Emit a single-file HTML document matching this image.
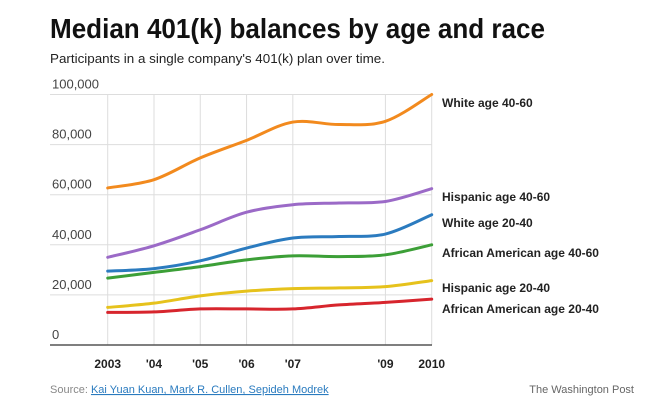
<!DOCTYPE html>
<html><head><meta charset="utf-8"><style>
body{margin:0;background:#fff;font-family:"Liberation Sans",sans-serif}
</style></head><body>
<svg id="c" width="664" height="402" xmlns="http://www.w3.org/2000/svg" font-family="Liberation Sans, sans-serif">
<text x="50" y="38" font-size="28" font-weight="bold" textLength="495" lengthAdjust="spacingAndGlyphs" fill="#111">Median 401(k) balances by age and race</text>
<text x="50" y="63" font-size="13" fill="#222" textLength="335" lengthAdjust="spacingAndGlyphs">Participants in a single company's 401(k) plan over time.</text>
<g id="grid"></g><g id="lines"></g><g id="labels"></g>
<text x="50" y="393" font-size="11" fill="#888">Source: <tspan fill="#2a7bbf" text-decoration="underline">Kai Yuan Kuan, Mark R. Cullen, Sepideh Modrek</tspan></text>
<text x="634" y="393" font-size="11" fill="#666" text-anchor="end">The Washington Post</text>
</svg>
<script>
const years=[2003,2004,2005,2006,2007,2008,2009,2010];
const tickYears=[2003,2004,2005,2006,2007,2009,2010];
const tickLabels=["2003","'04","'05","'06","'07","'09","2010"];
const yTicks=[0,20000,40000,60000,80000,100000];
const white4060=[62700,66000,74700,81700,89000,88000,89300,100000];
const hisp4060=[35000,39600,46000,53000,56000,56700,57300,62400];
const white2040=[29500,30500,33600,38700,42700,43300,44300,52000];
const afam4060=[26700,29000,31300,34000,35600,35300,36000,40000];
const hisp2040=[15000,16700,19600,21500,22500,22800,23300,25700];
const afam2040=[13000,13200,14400,14400,14400,16000,17000,18300];
const seriesNames=["White age 40-60","Hispanic age 40-60","White age 20-40","African American age 40-60","Hispanic age 20-40","African American age 20-40"];
const series=[white4060,hisp4060,white2040,afam4060,hisp2040,afam2040];
const colors=["#f28a1e","#9b6ac7","#2b7bbf","#3c9f37","#e6c21c","#d7252d"];
const labelY=[107,201,227,257,292,313];
const NS="http://www.w3.org/2000/svg";
const X=y=>107.7+(y-2003)*(431.7-107.7)/7;
const Y=v=>345-v*250.5/100000;
function mk(t,a,p){const e=document.createElementNS(NS,t);for(const k in a)e.setAttribute(k,a[k]);p.appendChild(e);return e;}
const g=document.getElementById('grid');
yTicks.forEach(v=>{
  if(v>0){const l=mk('line',{x1:50,x2:432,y1:Y(v),y2:Y(v),stroke:'#ddd','stroke-width':1},g);
  
  }
  const t=mk('text',{x:52,y:Y(v)-6,'font-size':13,fill:'#444'},g);t.textContent=v.toLocaleString('en-US');
  
  
});
tickYears.forEach((yr,i)=>{
  const l=mk('line',{x1:X(yr),x2:X(yr),y1:Y(100000),y2:Y(0),stroke:'#ddd','stroke-width':1},g);
  
  
  const t=mk('text',{x:X(yr),y:368,'font-size':12,'font-weight':'bold','text-anchor':'middle',fill:'#222'},g);t.textContent=tickLabels[i];
  
  
});
const ax=mk('line',{x1:50,x2:432,y1:Y(0),y2:Y(0),stroke:'#555','stroke-width':1.5},g);


function path(vals){
  const p=vals.map((v,i)=>[X(years[i]),Y(v)]);
  let d=`M${p[0][0]},${p[0][1]}`;
  for(let i=0;i<p.length-1;i++){
    const p0=p[Math.max(0,i-1)],p1=p[i],p2=p[i+1],p3=p[Math.min(p.length-1,i+2)];
    const c1=[p1[0]+(p2[0]-p0[0])/6,p1[1]+(p2[1]-p0[1])/6];
    const c2=[p2[0]-(p3[0]-p1[0])/6,p2[1]-(p3[1]-p1[1])/6];
    d+=` C${c1[0]},${c1[1]} ${c2[0]},${c2[1]} ${p2[0]},${p2[1]}`;
  }
  return d;
}
const lg=document.getElementById('lines'),lb=document.getElementById('labels');
series.forEach((s,i)=>{
  const e=mk('path',{d:path(s),fill:'none',stroke:colors[i],'stroke-width':3,'stroke-linecap':'round'},lg);
  
  
  const t=mk('text',{x:442,y:labelY[i],'font-size':12,'font-weight':'bold',fill:'#222'},lb);t.textContent=seriesNames[i];
  
  
});
</script>
</body></html>
